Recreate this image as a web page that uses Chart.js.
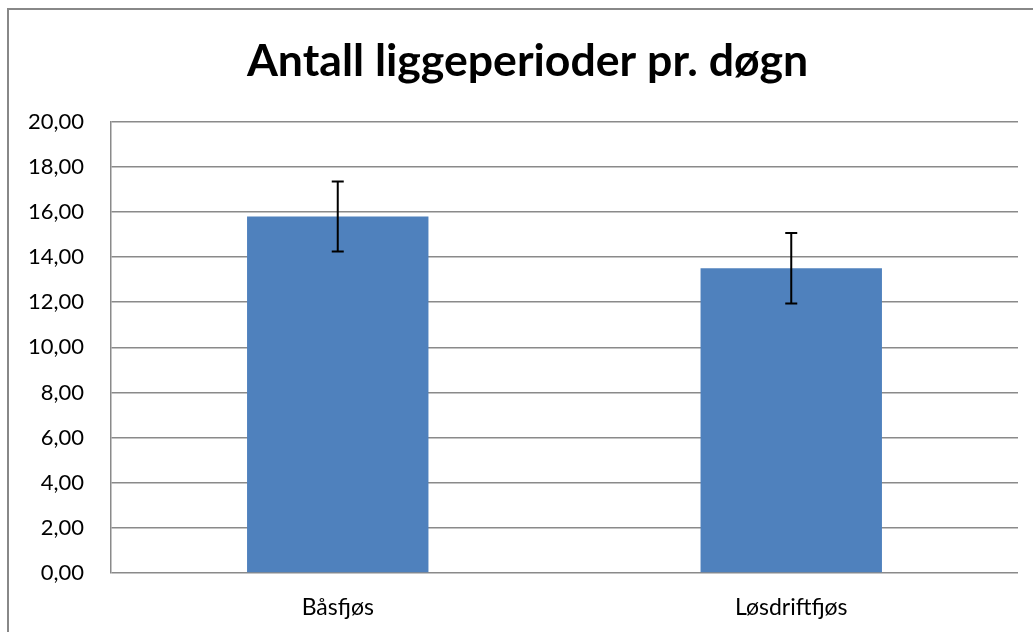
<!DOCTYPE html>
<html>
<head>
<meta charset="utf-8">
<script src="https://cdn.jsdelivr.net/npm/chart.js@4"></script>
<style>
  body { margin: 0; background: #fff; }
  #wrap { position: relative; width: 1033px; height: 632px; overflow: hidden; }
  #frame { position: absolute; left: 7px; top: 8px; width: 1100px; height: 700px;
    border-left: 2px solid #888; border-top: 2px solid #888; }
  #myChart { position: absolute; left: 0; top: 0; }
</style>
</head>
<body>
<div id="wrap">
  <div id="frame"></div>
  <canvas id="myChart" width="1033" height="632"></canvas>
</div>
<script>
const categories = ['Båsfjøs', 'Løsdriftfjøs'];
const means = [15.79, 13.50];
const errors = [1.55, 1.56];
const yTicks = [0, 2, 4, 6, 8, 10, 12, 14, 16, 18, 20];

const FONT = 'Lato';

// draw +/- error bars on top of the bars
const errorBars = {
  id: 'errorBars',
  afterLayout(chart) {
    // the left padding only shifts the title; let the y labels use that room
    chart.scales.y.left = 0;
  },
  afterDatasetsDraw(chart) {
    const ctx = chart.ctx;
    const meta = chart.getDatasetMeta(0);
    const y = chart.scales.y;
    ctx.save();
    ctx.strokeStyle = '#000';
    ctx.lineWidth = 2;
    meta.data.forEach((bar, i) => {
      const x = bar.x;
      const top = y.getPixelForValue(means[i] + errors[i]);
      const bot = y.getPixelForValue(means[i] - errors[i]);
      ctx.beginPath();
      ctx.moveTo(x, top); ctx.lineTo(x, bot);
      ctx.moveTo(x - 6, top); ctx.lineTo(x + 6, top);
      ctx.moveTo(x - 6, bot); ctx.lineTo(x + 6, bot);
      ctx.stroke();
    });
    ctx.restore();
  },
};

new Chart(document.getElementById('myChart'), {
  type: 'bar',
  data: {
    labels: categories,
    datasets: [{
      data: means,
      backgroundColor: '#4f81bd',
      categoryPercentage: 1,
      barPercentage: 0.4,
    }],
  },
  options: {
    responsive: false,
    animation: false,
    layout: {padding: {left: 37, right: 15, top: 0, bottom: 0}},
    plugins: {
      legend: {display: false},
      tooltip: {enabled: false},
      title: {
        display: true,
        text: 'Antall liggeperioder pr. døgn',
        color: '#000',
        font: {family: FONT, size: 44.6, weight: 'bold'},
        padding: {top: 35, bottom: 33},
      },
    },
    scales: {
      x: {
        grid: {display: false, drawTicks: false},
        border: {display: false},
        ticks: {color: '#000', font: {family: FONT, size: 23}, padding: 21},
        afterFit: (s) => { s.height = 59; },
      },
      y: {
        min: 0,
        max: 20,
        afterBuildTicks: (s) => { s.ticks = yTicks.map(v => ({value: v})); },
        grid: {color: '#8a8a8a', lineWidth: 1.5, drawTicks: false},
        border: {color: '#8a8a8a', width: 1.5},
        ticks: {
          color: '#000',
          font: {family: FONT, size: 22},
          padding: 27,
          callback: (v) => v.toFixed(2).replace('.', ','),
        },
        afterFit: (s) => { s.width = 74; },
      },
    },
  },
  plugins: [errorBars],
});
</script>
</body>
</html>
